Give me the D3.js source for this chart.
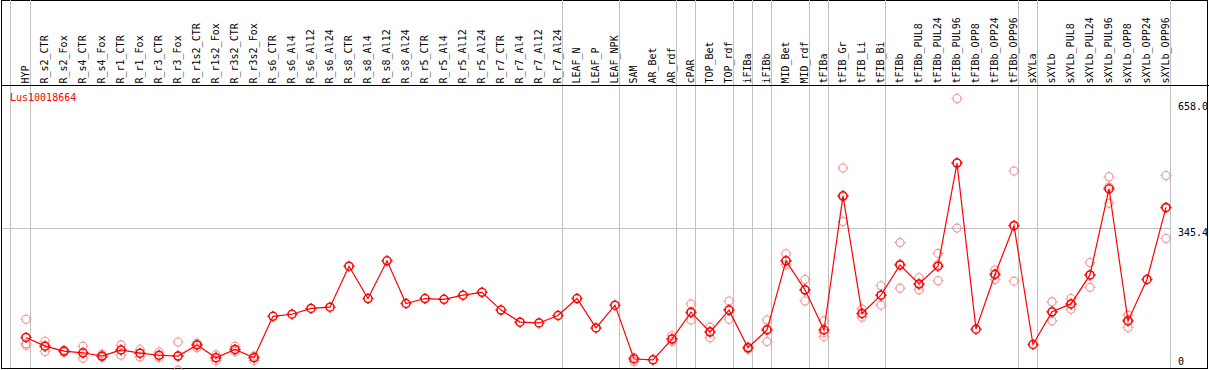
<!DOCTYPE html>
<html>
<head>
<meta charset="utf-8">
<script src="https://cdn.jsdelivr.net/npm/d3@7"></script>
<style>
  html, body { margin: 0; padding: 0; background: #fff; }
  svg { display: block; }
  text { font-family: "DejaVu Sans Mono", "Liberation Mono", monospace; font-size: 10px; }
</style>
</head>
<body>
<div id="chart"></div>
<script>
const title = "Lus10018664";
const categories = ["HYP","R_s2_CTR","R_s2_Fox","R_s4_CTR","R_s4_Fox","R_r1_CTR","R_r1_Fox","R_r3_CTR","R_r3_Fox","R_r1s2_CTR","R_r1s2_Fox","R_r3s2_CTR","R_r3s2_Fox","R_s6_CTR","R_s6_Al4","R_s6_Al12","R_s6_Al24","R_s8_CTR","R_s8_Al4","R_s8_Al12","R_s8_Al24","R_r5_CTR","R_r5_Al4","R_r5_Al12","R_r5_Al24","R_r7_CTR","R_r7_Al4","R_r7_Al12","R_r7_Al24","LEAF_N","LEAF_P","LEAF_NPK","SAM","AR_Bet","AR_rdf","cPAR","TOP_Bet","TOP_rdf","iFIBa","iFIBb","MID_Bet","MID_rdf","tFIBa","tFIB_Gr","tFIB_Li","tFIB_Bi","tFIBb","tFIBb_PUL8","tFIBb_PUL24","tFIBb_PUL96","tFIBb_OPP8","tFIBb_OPP24","tFIBb_OPP96","sXYLa","sXYLb","sXYLb_PUL8","sXYLb_PUL24","sXYLb_PUL96","sXYLb_OPP8","sXYLb_OPP24","sXYLb_OPP96"];
const means = [81,60,48,44,36,51,43,38,36,63,32,52,32,132,137,151,154,253,175,266,163,175,173,183,190,147,118,116,134,175,104,159,29,27,77,142,94,147,56,99,266,196,99,423,139,183,256,210,253,502,101,233,351,64,143,162,232,440,121,221,395];
const replicates = [[125,66,62],[72,60,47],[50,47,45],[60,43,31],[41,35,33],[63,51,38],[52,43,34],[46,37,32],[70,36,2],[67,63,56],[39,32,25],[60,52,47],[36,33,25],
  [],[],[],[],[],[],[],[],[],[],[],[],[],[],[],[],[],[],[],
  [33,23],[],[85,77,71],[162,140,123],[106,96,80],[169,148,125],[58,53],[123,102,71],[283,266,256],[221,196,169],[121,92,83],[490,420,361],[150,139,130],[206,183,159],[310,258,200],[225,210,196],[284,257,218],[658,503,345],[],[244,235,221],[483,352,217],[],[167,142,121],[175,162,149],[262,232,202],[469,445,405],[135,124,105],[],[472,394,320]];
// sizes of the column groups, separated by grey vertical lines
const groupSizes = [1,28,3,3,1,2,1,1,2,1,3,7,1,7];
const tickValues = [0, 345.4, 658.0];
const tickLabels = ["0", "345.4", "658.0"];
const gridValue = 345.4;

const W = 1209, H = 370;
const svg = d3.select("#chart").append("svg").attr("width", W).attr("height", H);

const x = d3.scalePoint().domain(categories).range([26, 1166]);
const y = d3.scaleLinear().domain([0, 658]).range([371, 98.5]);

const plotRight = 1170.5;

// frame
svg.append("rect").attr("x", 1.5).attr("y", 0.5).attr("width", 1206).attr("height", 367.5)
  .attr("fill", "none").attr("stroke", "#000").attr("shape-rendering", "crispEdges");

// grey separators
const sepIdx = [];
let acc = 0;
groupSizes.forEach(s => { acc += s; sepIdx.push(acc - 1); });
svg.append("line").attr("x1", 10.5).attr("x2", 10.5).attr("y1", 0).attr("y2", 368)
  .attr("stroke", "#c0c0c0").attr("shape-rendering", "crispEdges");
svg.selectAll("line.sep").data(sepIdx).join("line").attr("class", "sep")
  .attr("x1", d => Math.round(x(categories[d]) + 4) + 0.5)
  .attr("x2", d => Math.round(x(categories[d]) + 4) + 0.5)
  .attr("y1", 0).attr("y2", 368)
  .attr("stroke", "#c0c0c0").attr("shape-rendering", "crispEdges");

// horizontal grid line
svg.append("line").attr("x1", 2).attr("x2", plotRight)
  .attr("y1", Math.round(y(gridValue)) + 0.5).attr("y2", Math.round(y(gridValue)) + 0.5)
  .attr("stroke", "#c0c0c0").attr("shape-rendering", "crispEdges");

// label separator
svg.append("line").attr("x1", 1).attr("x2", W).attr("y1", 85.5).attr("y2", 85.5)
  .attr("stroke", "#000").attr("shape-rendering", "crispEdges");

// column labels
svg.selectAll("text.cat").data(categories).join("text").attr("class", "cat")
  .attr("transform", d => `translate(${x(d) + 3},83.5) rotate(-90)`)
  .attr("text-anchor", "start").attr("fill", "#000").text(d => d);

// title
svg.append("text").attr("x", 10).attr("y", 101).attr("fill", "#ff0000").text(title);

// y tick labels
const tickOffsets = [-6, 8, 11.5];
svg.selectAll("text.tick").data(tickValues).join("text").attr("class", "tick")
  .attr("x", 1178).attr("y", (d, i) => y(d) + tickOffsets[i])
  .attr("fill", "#000").text((d, i) => tickLabels[i]);

// marker path: circle plus small ticks at cardinal points
function markerPath(cx, cy) {
  const r = 4;
  return `M${cx + r},${cy} A${r},${r} 0 1,1 ${cx - r},${cy} A${r},${r} 0 1,1 ${cx + r},${cy} ` +
    `M${cx},${cy - r} L${cx},${cy - r - 1.5} M${cx},${cy + r} L${cx},${cy + r + 1.5} ` +
    `M${cx - r},${cy} L${cx - r - 1.5},${cy} M${cx + r},${cy} L${cx + r + 1.5},${cy}`;
}

// replicates
const repPts = [];
replicates.forEach((arr, i) => arr.forEach(v => repPts.push({c: categories[i], v})));
svg.selectAll("path.rep").data(repPts).join("path").attr("class", "rep")
  .attr("d", d => markerPath(x(d.c), y(d.v)))
  .attr("fill", "none").attr("stroke", "#f09494").attr("stroke-width", 1.1);

// mean line
const line = d3.line().x((d, i) => x(categories[i])).y(d => y(d));
svg.append("path").datum(means).attr("d", line)
  .attr("fill", "none").attr("stroke", "#ff0000").attr("stroke-width", 1.2);

// mean markers
svg.selectAll("path.mean").data(means).join("path").attr("class", "mean")
  .attr("d", (d, i) => markerPath(x(categories[i]), y(d)))
  .attr("fill", "none").attr("stroke", "#ff0000").attr("stroke-width", 1.5);
</script>
</body>
</html>
